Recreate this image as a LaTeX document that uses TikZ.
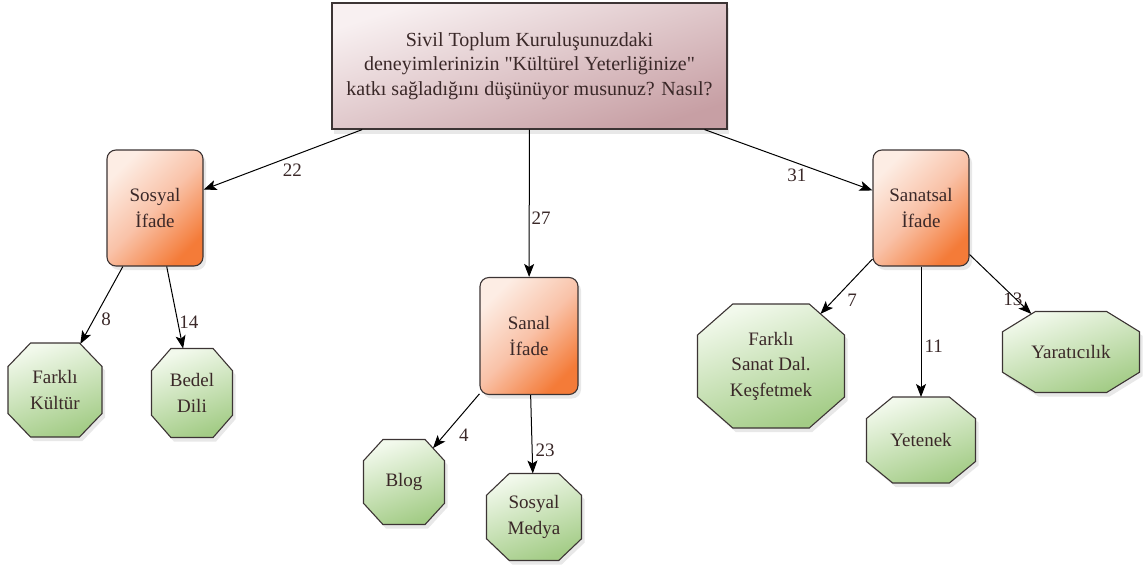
\documentclass[tikz,border=0pt]{standalone}
\usepackage{fontspec}
\setmainfont{Liberation Serif}[Ligatures=TeXOff]
\usetikzlibrary{shadows, arrows.meta}

\definecolor{inktext}{HTML}{3A2828}
\definecolor{frame}{HTML}{3C3434}
\definecolor{rootlight}{HTML}{F8F0F1}
\definecolor{rootdark}{HTML}{C79FA4}
\definecolor{orlight}{HTML}{FDEDE4}
\definecolor{ormid}{HTML}{F9C2A8}
\definecolor{ordark}{HTML}{F47B38}
\definecolor{grlight}{HTML}{F2F9EC}
\definecolor{grdark}{HTML}{A3CC86}

\makeatletter
% octagon, corners cut by .24 of the width and .25 of the height
\pgfdeclareshape{octagon}{%
  \inheritsavedanchors[from=rectangle]%
  \inheritanchor[from=rectangle]{center}%
  \inheritanchor[from=rectangle]{north}%
  \inheritanchor[from=rectangle]{south}%
  \inheritanchor[from=rectangle]{east}%
  \inheritanchor[from=rectangle]{west}%
  \backgroundpath{%
    \southwest \pgf@xa=\pgf@x \pgf@ya=\pgf@y
    \northeast \pgf@xb=\pgf@x \pgf@yb=\pgf@y
    \pgf@xc=\pgf@xb \advance\pgf@xc by-\pgf@xa \pgf@xc=.24\pgf@xc
    \pgf@yc=\pgf@yb \advance\pgf@yc by-\pgf@ya \pgf@yc=.25\pgf@yc
    \edef\oct@l{\the\pgf@xa}\edef\oct@r{\the\pgf@xb}%
    \edef\oct@b{\the\pgf@ya}\edef\oct@t{\the\pgf@yb}%
    \advance\pgf@xa by\pgf@xc \edef\oct@li{\the\pgf@xa}%
    \advance\pgf@xb by-\pgf@xc \edef\oct@ri{\the\pgf@xb}%
    \advance\pgf@ya by\pgf@yc \edef\oct@bi{\the\pgf@ya}%
    \advance\pgf@yb by-\pgf@yc \edef\oct@ti{\the\pgf@yb}%
    \pgfpathmoveto{\pgfqpoint{\oct@li}{\oct@t}}%
    \pgfpathlineto{\pgfqpoint{\oct@ri}{\oct@t}}%
    \pgfpathlineto{\pgfqpoint{\oct@r}{\oct@ti}}%
    \pgfpathlineto{\pgfqpoint{\oct@r}{\oct@bi}}%
    \pgfpathlineto{\pgfqpoint{\oct@ri}{\oct@b}}%
    \pgfpathlineto{\pgfqpoint{\oct@li}{\oct@b}}%
    \pgfpathlineto{\pgfqpoint{\oct@l}{\oct@bi}}%
    \pgfpathlineto{\pgfqpoint{\oct@l}{\oct@ti}}%
    \pgfpathclose
  }%
  \anchorborder{%
    \edef\oct@dx{\the\pgf@x}\edef\oct@dy{\the\pgf@y}%
    \southwest \pgf@xa=\pgf@x \pgf@ya=\pgf@y
    \northeast \pgf@xb=\pgf@x \pgf@yb=\pgf@y
    \pgf@xc=\pgf@xb \advance\pgf@xc by-\pgf@xa \pgf@xc=.5\pgf@xc
    \pgf@yc=\pgf@yb \advance\pgf@yc by-\pgf@ya \pgf@yc=.5\pgf@yc
    \advance\pgf@xa by\pgf@xc \advance\pgf@ya by\pgf@yc
    \edef\oct@cx{\the\pgf@xa}\edef\oct@cy{\the\pgf@ya}%
    \edef\oct@A{\the\pgf@xc}\edef\oct@B{\the\pgf@yc}%
    \pgfmathsetmacro\oct@n{max(abs(\oct@dx),abs(\oct@dy),0.001)}%
    \pgfmathsetmacro\oct@ux{abs(\oct@dx)/\oct@n}%
    \pgfmathsetmacro\oct@uy{abs(\oct@dy)/\oct@n}%
    \pgfmathsetmacro\oct@m{max(\oct@ux/\oct@A, \oct@uy/\oct@B, (\oct@ux/(0.48*\oct@A)+\oct@uy/(0.5*\oct@B))/3.08333)}%
    \pgfmathsetmacro\oct@s{1/(\oct@n*\oct@m)}%
    \pgfmathsetmacro\oct@px{\oct@cx+\oct@s*\oct@dx}%
    \pgfmathsetmacro\oct@py{\oct@cy+\oct@s*\oct@dy}%
    \pgf@x=\oct@px pt\relax
    \pgf@y=\oct@py pt\relax
  }%
}
\makeatother

\begin{document}
\begin{tikzpicture}[x=1pt, y=-1pt]
\tikzstyle{every node}=[font=\fontsize{19}{25.5}\selectfont, text=inktext]
\tikzstyle{question}=[rectangle, draw=frame, line width=1.2pt, top color=rootlight, bottom color=rootdark, shading angle=18, minimum width=395pt, minimum height=126pt, align=center, font=\fontsize{20}{24.5}\selectfont, drop shadow={opacity=0.18, shadow xshift=2pt, shadow yshift=-5pt}]
\tikzstyle{theme}=[rectangle, rounded corners=9pt, draw=frame, line width=1.1pt, top color=orlight, bottom color=ordark, middle color=ormid, shading angle=45, minimum width=96pt, minimum height=116pt, align=center, drop shadow={opacity=0.18, shadow xshift=3pt, shadow yshift=-4pt}]
\tikzstyle{answer}=[octagon, draw=frame, line width=1.1pt, top color=grlight, bottom color=grdark, shading angle=20, outer sep=0pt, align=center, drop shadow={opacity=0.18, shadow xshift=3pt, shadow yshift=-4pt}]
\tikzstyle{link}=[-{Stealth[length=13pt, width=10pt, inset=3pt]}, line width=1pt, draw=black]
\tikzstyle{freq}=[inner sep=1pt]

\useasboundingbox (0,0) rectangle (1145,565);

\node[question] (root) at (529.5,66) {Sivil Toplum Kuruluşunuzdaki\\deneyimlerinizin "Kültürel Yeterliğinize"\\katkı sağladığını düşünüyor musunuz? Nasıl?};

\node[theme] (sosyal) at (155,208) {Sosyal\\İfade};
\node[theme, minimum width=98pt, minimum height=117pt] (sanal) at (529,336) {Sanal\\İfade};
\node[theme] (sanatsal) at (921,208) {Sanatsal\\İfade};

\node[answer, minimum width=94pt, minimum height=94pt] (kultur) at (55,390) {Farklı\\Kültür};
\node[answer, minimum width=81pt, minimum height=89pt] (bedel) at (192,393) {Bedel\\Dili};
\node[answer, minimum width=81pt, minimum height=85pt] (blog) at (404,482) {Blog};
\node[answer, minimum width=95pt, minimum height=87pt] (medya) at (534,517) {Sosyal\\Medya};
\node[answer, minimum width=147pt, minimum height=124pt] (sanatdal) at (771,366) {Farklı\\Sanat Dal.\\Keşfetmek};
\node[answer, minimum width=109pt, minimum height=86pt] (yetenek) at (921,440) {Yetenek};
\node[answer, minimum width=137pt, minimum height=81pt] (yaratici) at (1071,352) {Yaratıcılık};

\draw[link] (root) -- (sosyal) node[freq, pos=.44, below=6pt] {22};
\draw[link] (root) -- (sanal) node[freq, pos=.6, right=1pt] {27};
\draw[link] (root) -- (sanatsal) node[freq, pos=.55, below=4pt] {31};
\draw[link] (sosyal) -- (kultur) node[freq, pos=.68, right=6pt] {8};
\draw[link] (sosyal) -- (bedel) node[freq, pos=.68, right=0pt] {14};
\draw[link] (sanal) -- (blog) node[freq, pos=.77, right=14pt] {4};
\draw[link] (sanal) -- (medya) node[freq, pos=.7, right=2pt] {23};
\draw[link] (sanatsal) -- (sanatdal) node[freq, pos=.76, right=13pt] {7};
\draw[link] (sanatsal) -- (yetenek) node[freq, pos=.61, right=2pt] {11};
\draw[link] (sanatsal) -- (yaratici) node[freq, pos=.75, xshift=-3pt] {13};

\end{tikzpicture}
\end{document}
